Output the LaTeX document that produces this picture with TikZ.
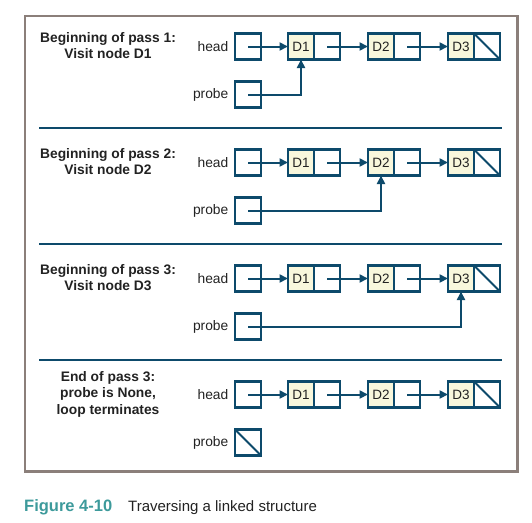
\documentclass[tikz,border=0pt]{standalone}
\usepackage{fontspec}
\setmainfont{Liberation Sans}
\usetikzlibrary{arrows.meta}
\definecolor{lnk}{HTML}{0D4A6B}
\definecolor{frm}{HTML}{8B7F7A}
\definecolor{cellfill}{HTML}{F8F7DC}
\definecolor{capteal}{HTML}{3D9A9B}
\definecolor{txt}{HTML}{222222}
\tikzset{
  cell/.style={draw=lnk, line width=2.6pt, minimum width=26pt, minimum height=26pt, inner sep=0pt, outer sep=0pt},
  datacell/.style={cell, fill=cellfill, text=txt, font=\fontsize{13.5}{13.5}\selectfont},
  lbl/.style={text=txt, inner sep=0pt, font=\fontsize{13.8}{13.8}\selectfont},
  title/.style={text=txt, inner sep=0pt, align=center, font=\bfseries\fontsize{13.8}{16.5}\selectfont},
  ptr/.style={draw=lnk, line width=2pt, -{Triangle[length=8.5pt,width=8pt]}},
  nil/.style={draw=lnk, line width=2pt},
  sepline/.style={draw=lnk, line width=2.4pt}
}
\begin{document}
\begin{tikzpicture}[x=1pt,y=-1pt]
\useasboundingbox (0,0) rectangle (532,522);
\draw[frm, line width=2.4pt] (25,16) rectangle (517.5,471.5);
\foreach \s in {128,244,360} {\draw[sepline] (39,\s) -- (502,\s);}
\foreach \k in {0,1,2,3} {
  \pgfmathsetmacro\hy{46.5+116*\k}
  \pgfmathsetmacro\py{94.5+116*\k}
  \pgfmathtruncatemacro\j{\k+1}
  \node[lbl, anchor=east] (hl\k) at (228.5,\hy) {head};
  \node[lbl, anchor=east] (pl\k) at (228.5,\py) {probe};
  \node[cell] (h\k) at (248,\hy) {};
  \node[cell] (p\k) at (248,\py) {};
  \foreach \i/\x in {1/301,2/381,3/461} {
    \node[datacell] (d\i-\k) at (\x,\hy) {D\i};
    \node[cell, anchor=west] (n\i-\k) at (d\i-\k.east) {};
  }
  \draw[ptr] (h\k.center) -- (d1-\k.west);
  \draw[ptr] (n1-\k.center) -- (d2-\k.west);
  \draw[ptr] (n2-\k.center) -- (d3-\k.west);
  \draw[nil] (n3-\k.north west) -- (n3-\k.south east);
  \ifnum\k<3
    \draw[ptr] (p\k.center) -| (d\j-\k.south);
  \else
    \draw[nil] (p\k.north west) -- (p\k.south east);
  \fi
}
\node[title] (t0) at (108,45.5) {Beginning of pass 1:\\Visit node D1};
\node[title] (t1) at (108,161.5) {Beginning of pass 2:\\Visit node D2};
\node[title] (t2) at (108,277.5) {Beginning of pass 3:\\Visit node D3};
\node[title] (t3) at (108,394) {End of pass 3:\\probe is None,\\loop terminates};
\node[anchor=base west, inner sep=0pt, text=capteal, font=\bfseries\fontsize{16.5}{16.5}\selectfont] (fig) at (24,511) {Figure 4-10};
\node[anchor=base west, inner sep=0pt, text=txt, font=\fontsize{15}{15}\selectfont] (cap) at (128,511) {Traversing a linked structure};
\end{tikzpicture}
\end{document}
